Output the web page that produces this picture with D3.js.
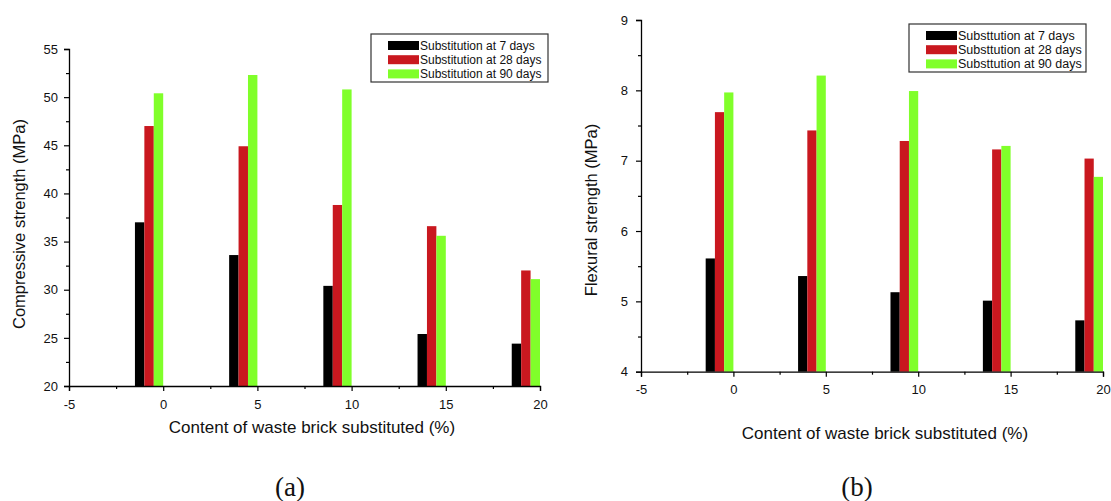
<!DOCTYPE html>
<html><head><meta charset="utf-8">
<script src="https://cdn.jsdelivr.net/npm/d3@7"></script>
<style>
html,body{margin:0;padding:0;background:#fff;}
svg{display:block;}
text{font-family:"Liberation Sans",Arial,sans-serif;fill:#111;}
</style></head>
<body>
<svg id="chart" width="1111" height="501"></svg>
<script>
const contents = [0, 5, 10, 15, 20];
const seriesNames = ["7 days", "28 days", "90 days"];
const seriesColors = ["#000000", "#c9181f", "#80ff2a"];
const legendLeft = ["Substitution at 7 days", "Substitution at 28 days", "Substitution at 90 days"];
const legendRight = ["Substtution at 7 days", "Substtution at 28 days", "Substtution at 90 days"];
const compressive7 = [37.0, 33.6, 30.4, 25.4, 24.4];
const compressive28 = [47.0, 44.9, 38.8, 36.6, 32.0];
const compressive90 = [50.4, 52.3, 50.8, 35.6, 31.1];
const flexural7 = [5.61, 5.36, 5.13, 5.01, 4.73];
const flexural28 = [7.69, 7.43, 7.28, 7.16, 7.03];
const flexural90 = [7.97, 8.21, 7.99, 7.21, 6.77];
const xTicks = [-5, 0, 5, 10, 15, 20];
const yTicksLeft = [20, 25, 30, 35, 40, 45, 50, 55];
const yTicksRight = [4, 5, 6, 7, 8, 9];

const svg = d3.select("#chart");
const fmt = d => String(d);

function panel(cfg) {
  const g = svg.append("g");
  const x = d3.scaleLinear().domain([-5, 20]).range([cfg.x0, cfg.x1]);
  const y = d3.scaleLinear().domain(cfg.yDomain).range([cfg.y0, cfg.y1]);
  const barW = 0.5;
  cfg.series.forEach((vals, si) => {
    g.selectAll(null).data(contents.map((c, i) => ({c, v: vals[i]})))
      .enter().append("rect")
      .attr("x", d => x(d.c - 1.5 + si * barW))
      .attr("width", d => x(d.c - 1.5 + (si + 1) * barW) - x(d.c - 1.5 + si * barW))
      .attr("y", d => y(d.v))
      .attr("height", d => y(cfg.yDomain[0]) - y(d.v))
      .attr("fill", seriesColors[si]);
  });
  // x axis
  const xa = g.append("g").attr("transform", `translate(0,${cfg.y0})`)
    .call(d3.axisBottom(x).tickValues(xTicks).tickSize(5).tickPadding(cfg.xPad).tickFormat(fmt));
  xa.select(".domain").attr("stroke", "#000").attr("stroke-width", 1.3);
  xa.selectAll(".tick line").attr("stroke", "#000").attr("stroke-width", 1.2);
  xa.selectAll("text").attr("font-size", 13).attr("fill", "#111");
  const xMinor = g.append("g").attr("transform", `translate(0,${cfg.y0})`)
    .call(d3.axisBottom(x).tickValues([-2.5, 2.5, 7.5, 12.5, 17.5]).tickSize(3).tickFormat(""));
  xMinor.select(".domain").remove();
  xMinor.selectAll(".tick line").attr("stroke", "#000").attr("stroke-width", 1.2);
  // y axis
  const ya = g.append("g").attr("transform", `translate(${cfg.x0},0)`)
    .call(d3.axisLeft(y).tickValues(cfg.yTicks).tickSize(5).tickPadding(cfg.yPad).tickFormat(fmt));
  ya.select(".domain").attr("stroke", "#000").attr("stroke-width", 1.3);
  ya.selectAll(".tick line").attr("stroke", "#000").attr("stroke-width", 1.2);
  ya.selectAll("text").attr("font-size", 13).attr("fill", "#111");
  const yMinorVals = cfg.yTicks.slice(0, -1).map((t, i) => (t + cfg.yTicks[i + 1]) / 2);
  const yMinor = g.append("g").attr("transform", `translate(${cfg.x0},0)`)
    .call(d3.axisLeft(y).tickValues(yMinorVals).tickSize(3).tickFormat(""));
  yMinor.select(".domain").remove();
  yMinor.selectAll(".tick line").attr("stroke", "#000").attr("stroke-width", 1.2);
  // titles
  g.append("text").attr("x", cfg.xTitleX).attr("y", cfg.xTitleY)
    .attr("text-anchor", "middle").attr("dominant-baseline", "central")
    .attr("font-size", 17).text("Content of waste brick substituted (%)");
  g.append("text").attr("transform", `translate(${cfg.yTitleX},${cfg.yTitleY}) rotate(-90)`)
    .attr("text-anchor", "middle").attr("dominant-baseline", "central")
    .attr("font-size", 16.5).text(cfg.yTitle);
  // legend
  const lg = g.append("g").attr("transform", `translate(${cfg.lx},${cfg.ly})`);
  lg.append("rect").attr("x", 0).attr("y", 0).attr("width", 177).attr("height", 48)
    .attr("fill", "#fff").attr("stroke", "#333").attr("stroke-width", 1.2);
  cfg.legend.forEach((t, i) => {
    lg.append("rect").attr("x", 17).attr("y", 7 + i * 14.2).attr("width", 31).attr("height", 9)
      .attr("fill", seriesColors[i]);
    lg.append("text").attr("x", 49).attr("y", 11.5 + i * 14.2)
      .attr("dominant-baseline", "central").attr("font-size", cfg.legendFont).text(t);
  });
  // panel label
  g.append("text").attr("x", cfg.labelX).attr("y", 487)
    .attr("text-anchor", "middle").attr("dominant-baseline", "central")
    .style("font-family", "'Liberation Serif','Times New Roman',serif")
    .attr("font-size", 27).text(cfg.label);
}

panel({
  x0: 69, x1: 540, y0: 386, y1: 49, yDomain: [20, 55], yTicks: yTicksLeft,
  series: [compressive7, compressive28, compressive90],
  xPad: 9, yPad: 6,
  xTitleX: 312, xTitleY: 427, yTitleX: 19, yTitleY: 224,
  yTitle: "Compressive strength (MPa)",
  lx: 371, ly: 34, legend: legendLeft, legendFont: 12,
  label: "(a)", labelX: 290
});
panel({
  x0: 641, x1: 1103, y0: 371.7, y1: 20, yDomain: [4, 9], yTicks: yTicksRight,
  series: [flexural7, flexural28, flexural90],
  xPad: 8, yPad: 8,
  xTitleX: 885, xTitleY: 433, yTitleX: 591, yTitleY: 210,
  yTitle: "Flexural strength (MPa)",
  lx: 909, ly: 24, legend: legendRight, legendFont: 12.5,
  label: "(b)", labelX: 857
});
</script>
</body></html>
